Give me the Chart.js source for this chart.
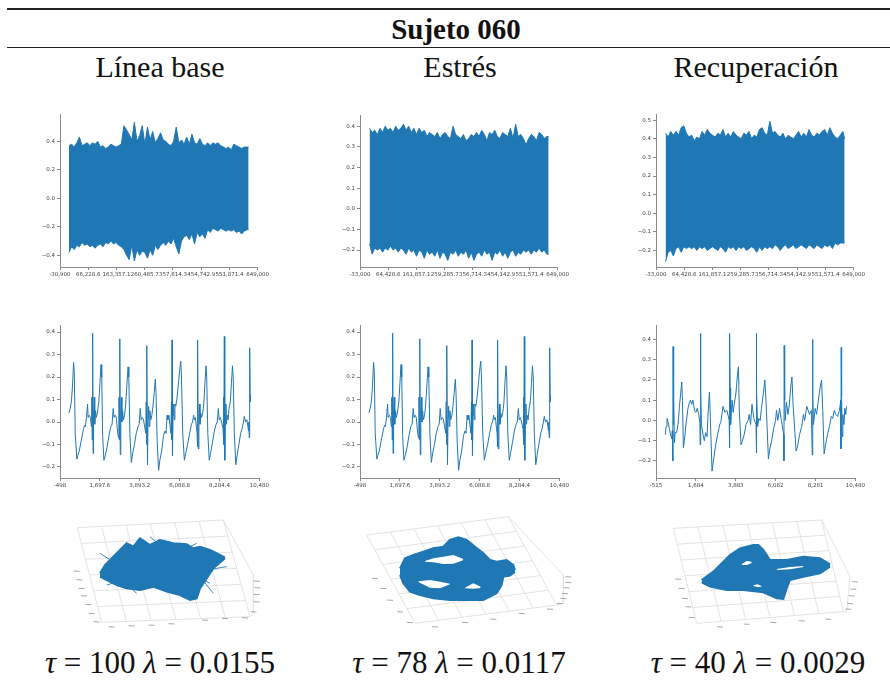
<!DOCTYPE html>
<html lang="es">
  <head>
    <meta charset="UTF-8" />
    <title>Sujeto 060</title>
    <style>
      html, body { margin: 0; padding: 0; background: #fff; }
      body { position: relative; width: 890px; height: 683px; overflow: hidden; font-family: "Liberation Serif", serif; color: #111; }
      .rule { position: absolute; left: 7px; right: 0; background: #222; }
      .txt { position: absolute; white-space: nowrap; transform: translateX(-50%); line-height: 1; }
      .head { font-size: 30px; }
      .foot { font-size: 31px; }
      .foot i { font-style: italic; }
      canvas { position: absolute; filter: blur(0.55px); }
    </style>
  </head>
  <body>
    <div class="rule" style="top: 8px; height: 2px"></div>
    <div class="rule" style="top: 47px; height: 1px"></div>
    <div class="txt" style="left: 456px; top: 15px; font-size: 29px; font-weight: bold">Sujeto 060</div>
    <div class="txt head" style="left: 160px; top: 52px">Línea base</div>
    <div class="txt head" style="left: 460px; top: 52px">Estrés</div>
    <div class="txt head" style="left: 756px; top: 52px">Recuperación</div>
    <div class="txt foot" style="left: 160px; top: 647px"><i>τ</i> = 100 <i>λ</i> = 0.0155</div>
    <div class="txt foot" style="left: 459px; top: 647px"><i>τ</i> = 78 <i>λ</i> = 0.0117</div>
    <div class="txt foot" style="left: 758px; top: 647px"><i>τ</i> = 40 <i>λ</i> = 0.0029</div>

    <script src="https://cdn.jsdelivr.net/npm/chart.js"></script>
    <script>
      const BLUE = "#1f77b4";

      // top row: upper and lower edge of the full recording
      const envX = [
        0, 9000, 18000, 27000, 36000, 45000, 54000, 63000, 72000, 81000,
        90000, 99000, 108000, 117000, 126000, 135000, 144000, 153000, 162000, 171000,
        180000, 189000, 198000, 207000, 216000, 225000, 234000, 243000, 252000, 261000,
        270000, 279000, 288000, 297000, 306000, 315000, 324000, 333000, 342000, 351000,
        360000, 369000, 378000, 387000, 396000, 405000, 414000, 423000, 432000, 441000,
        450000, 459000, 468000, 477000, 486000, 495000, 504000, 513000, 522000, 531000,
        540000, 549000, 558000, 567000, 576000, 585000, 594000, 603000, 612000, 618000,
      ];
      const baseHi = [
        0.37, 0.38, 0.36, 0.39, 0.43, 0.37, 0.38, 0.39, 0.37, 0.39,
        0.38, 0.40, 0.36, 0.37, 0.35, 0.36, 0.38, 0.37, 0.36, 0.37,
        0.38, 0.51, 0.48, 0.45, 0.41, 0.535, 0.40, 0.44, 0.51, 0.38,
        0.50, 0.41, 0.47, 0.39, 0.42, 0.46, 0.41, 0.40, 0.38, 0.37,
        0.40, 0.50, 0.39, 0.41, 0.38, 0.43, 0.38, 0.45, 0.39, 0.38,
        0.42, 0.38, 0.37, 0.39, 0.37, 0.39, 0.38, 0.39, 0.37, 0.36,
        0.35, 0.36, 0.34, 0.38, 0.37, 0.36, 0.35, 0.36, 0.36, 0.36,
      ];
      const baseLo = [
        -0.38, -0.34, -0.36, -0.33, -0.34, -0.31, -0.33, -0.32, -0.34, -0.33,
        -0.35, -0.33, -0.32, -0.34, -0.31, -0.32, -0.30, -0.32, -0.31, -0.33,
        -0.34, -0.36, -0.40, -0.43, -0.33, -0.44, -0.36, -0.40, -0.37, -0.38,
        -0.42, -0.36, -0.40, -0.33, -0.36, -0.33, -0.31, -0.33, -0.30, -0.32,
        -0.28, -0.34, -0.39, -0.30, -0.27, -0.26, -0.29, -0.25, -0.32, -0.24,
        -0.27, -0.25, -0.28, -0.22, -0.24, -0.21, -0.22, -0.23, -0.21, -0.22,
        -0.23, -0.22, -0.23, -0.22, -0.24, -0.23, -0.25, -0.23, -0.22, -0.22,
      ];
      const stressHi = [
        0.39, 0.37, 0.38, 0.36, 0.39, 0.37, 0.40, 0.38, 0.39, 0.37,
        0.40, 0.38, 0.39, 0.41, 0.38, 0.40, 0.37, 0.39, 0.36, 0.39,
        0.37, 0.38, 0.35, 0.37, 0.36, 0.35, 0.37, 0.34, 0.36, 0.37,
        0.35, 0.34, 0.40, 0.36, 0.35, 0.34, 0.36, 0.33, 0.34, 0.36,
        0.35, 0.37, 0.35, 0.38, 0.36, 0.33, 0.37, 0.36, 0.38, 0.35,
        0.34, 0.37, 0.36, 0.35, 0.39, 0.34, 0.41, 0.35, 0.36, 0.34,
        0.31, 0.34, 0.36, 0.35, 0.33, 0.37, 0.36, 0.34, 0.35, 0.35,
      ];
      const stressLo = [
        -0.17, -0.22, -0.19, -0.20, -0.19, -0.21, -0.19, -0.20, -0.18, -0.20,
        -0.19, -0.21, -0.19, -0.20, -0.22, -0.19, -0.21, -0.20, -0.23, -0.20,
        -0.21, -0.24, -0.20, -0.22, -0.21, -0.23, -0.20, -0.24, -0.21, -0.22,
        -0.25, -0.21, -0.22, -0.20, -0.23, -0.21, -0.22, -0.20, -0.24, -0.21,
        -0.25, -0.22, -0.21, -0.23, -0.20, -0.22, -0.21, -0.25, -0.21, -0.22,
        -0.20, -0.23, -0.21, -0.24, -0.21, -0.20, -0.23, -0.21, -0.22, -0.20,
        -0.21, -0.20, -0.22, -0.20, -0.21, -0.19, -0.21, -0.20, -0.22, -0.22,
      ];
      const recovHi = [
        0.43, 0.41, 0.44, 0.42, 0.44, 0.42, 0.46, 0.47, 0.43, 0.41,
        0.42, 0.39, 0.41, 0.40, 0.44, 0.42, 0.45, 0.43, 0.42, 0.41,
        0.43, 0.42, 0.45, 0.41, 0.43, 0.41, 0.44, 0.42, 0.41, 0.40,
        0.43, 0.42, 0.44, 0.40, 0.42, 0.41, 0.45, 0.46, 0.43, 0.42,
        0.495, 0.43, 0.44, 0.42, 0.41, 0.43, 0.40, 0.42, 0.41, 0.40,
        0.42, 0.44, 0.41, 0.43, 0.41, 0.45, 0.42, 0.41, 0.43, 0.42,
        0.44, 0.45, 0.42, 0.46, 0.43, 0.41, 0.40, 0.42, 0.44, 0.40,
      ];
      const recovLo = [
        -0.26, -0.21, -0.20, -0.23, -0.19, -0.18, -0.21, -0.18, -0.19, -0.18,
        -0.19, -0.18, -0.20, -0.18, -0.19, -0.18, -0.20, -0.19, -0.18, -0.19,
        -0.20, -0.18, -0.19, -0.21, -0.18, -0.19, -0.18, -0.20, -0.18, -0.19,
        -0.18, -0.20, -0.19, -0.18, -0.19, -0.21, -0.18, -0.20, -0.18, -0.19,
        -0.18, -0.19, -0.17, -0.18, -0.20, -0.18, -0.17, -0.19, -0.18, -0.17,
        -0.19, -0.18, -0.17, -0.18, -0.19, -0.17, -0.18, -0.19, -0.17, -0.18,
        -0.19, -0.17, -0.18, -0.17, -0.19, -0.16, -0.17, -0.16, -0.16, -0.16,
      ];

      // middle row: first 10000 samples (Línea base and Estrés read the same)
      const beatX = [
        0, 60, 130, 190, 250, 290, 340, 430, 480, 560, 700, 800, 850, 900, 960, 1020, 1050, 1120, 1180, 1230, 1255, 1275, 1300, 1325, 1350, 1385, 1415, 1460, 1500, 1560, 1640, 1700, 1760,
        1800, 1850, 1920, 1990, 2100, 2200, 2300, 2370, 2430, 2480, 2540, 2600, 2680, 2725, 2750, 2770, 2795, 2820, 2850, 2880, 2910, 2950, 3000, 3060, 3120, 3190, 3250,
        3290, 3350, 3430, 3500, 3600, 3700, 3800, 3860, 3920, 3970, 4040, 4100, 4180, 4225, 4250, 4270, 4290, 4320, 4350, 4380, 4410, 4450, 4500, 4560, 4620, 4690, 4750,
        4790, 4850, 4930, 5000, 5100, 5200, 5280, 5340, 5400, 5440, 5500, 5550, 5610, 5640, 5655, 5670, 5695, 5725, 5760, 5790, 5830, 5880, 5950, 6020, 6090, 6150,
        6190, 6260, 6350, 6420, 6530, 6640, 6740, 6800, 6860, 6900, 6960, 7020, 7050, 7065, 7078, 7090, 7115, 7150, 7180, 7210, 7250, 7300, 7360, 7420, 7480, 7540,
        7580, 7640, 7720, 7790, 7900, 8000, 8100, 8160, 8220, 8270, 8330, 8400, 8480, 8510, 8530, 8550, 8575, 8610, 8640, 8670, 8710, 8760, 8810, 8880, 8940, 9000,
        9040, 9100, 9180, 9250, 9350, 9450, 9530, 9600, 9650, 9720, 9790, 9850, 9880, 9900, 9920, 9945, 9975, 9990,
      ];
      const beatY = [
        0.04, 0.06, 0.09, 0.16, 0.265, 0.22, -0.05, -0.165, -0.15, -0.13, -0.07, -0.03, -0.015, -0.02, 0.02, 0.08, 0.02, 0.03, 0.02, -0.02, 0.11, -0.08, 0.395, -0.14, 0.03, 0.11, -0.01, 0.05, 0.02, 0.04, 0.09, 0.17, 0.255,
        0.2, -0.06, -0.17, -0.15, -0.11, -0.06, -0.02, -0.01, 0.06, 0.02, 0.03, 0.02, -0.05, -0.07, 0.11, -0.08, 0.37, -0.145, 0.03, 0.11, 0, 0.05, 0.01, 0.03, 0.08, 0.17, 0.245,
        0.2, -0.05, -0.18, -0.14, -0.1, -0.05, -0.02, -0.01, 0.06, 0.01, 0.02, 0.01, -0.03, -0.05, 0.09, -0.1, 0.34, -0.19, 0.02, 0.07, -0.02, 0.05, 0.01, 0.03, 0.07, 0.13, 0.19,
        0.13, -0.08, -0.215, -0.17, -0.13, -0.06, -0.04, -0.05, 0.03, 0.01, 0.03, -0.01, -0.05, 0.09, -0.08, 0.365, -0.15, 0.03, 0.08, 0.01, 0.08, 0.07, 0.11, 0.17, 0.23, 0.27,
        0.2, -0.05, -0.17, -0.14, -0.1, -0.05, -0.01, 0, 0.03, 0.01, 0.02, -0.03, -0.05, 0.1, -0.11, 0.365, -0.12, 0.03, 0.08, -0.01, 0.04, 0.02, 0.04, 0.08, 0.17, 0.25,
        0.2, -0.05, -0.17, -0.14, -0.09, -0.04, -0.01, 0, 0.06, 0.01, 0.02, 0, -0.03, 0.11, -0.1, 0.38, -0.17, 0.03, 0.08, -0.01, 0.03, 0.01, 0.06, 0.09, 0.17, 0.25,
        0.2, -0.05, -0.19, -0.15, -0.1, -0.05, -0.03, 0, 0.025, 0, 0.01, -0.02, -0.04, 0, -0.07, 0.33, 0.12, 0.09,
      ];
      const recovBeatX = [
        0, 40, 90, 160, 220, 290, 350, 385, 410, 426, 445, 470, 500, 540, 620, 700, 780, 850, 906, 945,
        995, 1050, 1150, 1250, 1330, 1385, 1450, 1520, 1610, 1680, 1760, 1840, 1905, 1920, 1936, 1960, 1990, 2080, 2150, 2220, 2300, 2360, 2433, 2480,
        2575, 2650, 2760, 2880, 3000, 3060, 3120, 3180, 3280, 3400, 3520, 3535, 3552, 3575, 3600, 3680, 3740, 3800, 3900, 3980, 4032, 4080,
        4174, 4250, 4350, 4450, 4560, 4620, 4700, 4780, 4880, 5000, 5012, 5027, 5050, 5090, 5150, 5230, 5300, 5400, 5488, 5550,
        5684, 5760, 5860, 5970, 6080, 6130, 6200, 6300, 6400, 6530, 6540, 6554, 6580, 6610, 6680, 6760, 6840, 6920, 6980, 7050,
        7211, 7290, 7400, 7520, 7620, 7680, 7800, 7950, 8050, 8100, 8117, 8140, 8170, 8260, 8340, 8440, 8530, 8615, 8680,
        8757, 8840, 8940, 9050, 9150, 9230, 9320, 9400, 9500, 9600, 9680, 9685, 9698, 9720, 9750, 9790, 9850, 9900, 9950, 9990,
      ];
      const recovBeatY = [
        -0.07, -0.03, 0.01, -0.01, -0.04, -0.07, -0.09, -0.05, -0.2, 0.365, -0.02, 0.1, -0.11, -0.06, -0.06, -0.02, 0.07, 0.14, 0.19, 0.1,
        -0.135, -0.1, -0.01, 0.06, 0.09, 0.1, 0.08, 0.1, 0.05, 0.04, 0.06, 0.03, -0.01, -0.12, 0.43, 0.14, -0.02, -0.07, -0.1, -0.06, -0.08, 0.04, 0.14, 0.02,
        -0.25, -0.2, -0.13, -0.07, -0.02, -0.01, 0.03, 0.07, 0.04, 0.05, 0, -0.135, 0.43, 0.16, -0.02, 0.1, 0.04, 0.08, 0.14, 0.23, 0.265, 0.05,
        -0.12, -0.1, -0.07, -0.02, 0, 0.03, -0.02, 0.08, 0.01, -0.02, -0.16, 0.43, 0.14, -0.03, 0.01, 0, 0.06, 0.13, 0.2, 0.1,
        -0.19, -0.14, -0.1, -0.04, 0, 0.05, 0, 0.06, 0, -0.07, -0.2, 0.37, 0.1, 0, 0.09, 0.03, 0.08, 0.17, 0.215, 0.07,
        -0.15, -0.13, -0.07, -0.03, 0.03, 0, 0.07, 0.03, 0.05, -0.17, 0.4, 0.12, -0.02, 0.06, 0.03, 0.1, 0.16, 0.2, 0.05,
        -0.165, -0.12, -0.07, -0.03, 0.02, 0.01, 0.05, 0.03, 0.02, 0.05, 0.1, -0.14, 0.36, 0.12, -0.08, 0.03, -0.02, 0.06, 0.03, 0.07,
      ];

      // bottom row: projected outline of each attractor, read in the panel's own units
      const cloudBaseTopX = [180, 195, 205, 225, 240, 260, 280, 300, 330, 360, 400, 440, 460, 480, 510, 540, 555];
      const cloudBaseTopY = [205, 180, 170, 150, 135, 115, 125, 100, 120, 105, 115, 118, 130, 125, 135, 150, 158];
      const cloudBaseBotX = [180, 190, 230, 260, 300, 340, 380, 420, 450, 470, 480, 500, 520, 555];
      const cloudBaseBotY = [215, 220, 240, 250, 255, 245, 260, 270, 285, 280, 250, 220, 190, 160];

      const cloudStressTopX = [150, 165, 190, 220, 250, 280, 300, 325, 350, 375, 400, 420, 440, 470, 490, 495];
      const cloudStressTopY = [190, 160, 150, 140, 130, 125, 105, 97, 105, 125, 145, 165, 170, 165, 180, 195];
      const cloudStressBotX = [150, 160, 180, 210, 250, 300, 350, 400, 440, 455, 460, 480, 495];
      const cloudStressBotY = [210, 235, 260, 270, 280, 285, 285, 285, 265, 240, 215, 212, 200];
      const stressHoles = [
        { x: [225, 250, 280, 310, 340], top: [168, 160, 155, 150, 162], bot: [170, 172, 177, 176, 166] },
        { x: [205, 240, 270, 300], top: [229, 225, 230, 236], bot: [231, 248, 250, 238] },
        { x: [345, 370, 392], top: [248, 235, 245], bot: [250, 251, 249] },
      ];

      const cloudRecovTopX = [215, 250, 280, 300, 330, 370, 385, 400, 420, 470, 520, 570, 600];
      const cloudRecovTopY = [225, 200, 170, 150, 130, 120, 120, 135, 165, 165, 155, 160, 178];
      const cloudRecovBotX = [215, 240, 290, 340, 400, 440, 460, 470, 480, 520, 570, 600];
      const cloudRecovBotY = [232, 245, 255, 255, 262, 280, 282, 250, 225, 215, 205, 185];
      const recovHoles = [
        { x: [335, 350, 365], top: [178, 168, 170], bot: [180, 180, 174] },
        { x: [440, 480, 520], top: [192, 186, 183], bot: [195, 193, 186] },
        { x: [370, 382, 395], top: [241, 238, 243], bot: [243, 246, 245] },
      ];

      // loose strokes leaving the Línea base cloud: x0, y0, x1, y1
      const baseRays = [
        [180, 145, 250, 190], [290, 265, 240, 220], [540, 155, 430, 170], [510, 235, 470, 215],
        [560, 185, 470, 200], [520, 265, 480, 215], [200, 240, 250, 225], [470, 115, 420, 140],
        [300, 120, 250, 150], [330, 95, 370, 130],
      ];

      // floor corners of the 3D boxes (back left, back right, front right, front left)
      const boxBase = [[112, 68], [550, 45], [630, 335], [185, 352]];
      const boxStress = [[50, 90], [475, 35], [620, 300], [195, 355]];
      const boxRecov = [[130, 70], [575, 45], [640, 320], [200, 355]];
      // side walls drawn from the back right and front right corners
      const wallBase = [[550, 45], [640, 210], [640, 325]];
      const wallStress = [[475, 35], [640, 210], [640, 295]];
      const wallRecov = [[575, 45], [660, 215], [650, 320]];
      // unreadable tick text of the 3D axes, kept as short strokes
      const marksBase = [[110, 198], [118, 224], [125, 250], [132, 272], [145, 298], [155, 325], [170, 350], [215, 365], [275, 362], [335, 360], [395, 356], [495, 345], [555, 340], [615, 338], [650, 228], [652, 248], [650, 268], [650, 290], [640, 320]];
      const marksStress = [[75, 220], [100, 250], [120, 285], [150, 320], [180, 352], [255, 365], [345, 352], [430, 342], [515, 325], [600, 312], [655, 215], [655, 232], [650, 248], [645, 265], [640, 280], [630, 295]];
      const marksRecov = [[145, 222], [155, 250], [165, 280], [175, 305], [185, 337], [270, 365], [350, 357], [430, 352], [515, 347], [595, 342], [675, 230], [670, 252], [665, 272], [660, 295], [655, 312]];

      const zip = (xs, ys) => xs.map((x, i) => ({ x: x, y: ys[i] }));

      function fixedAxes(xMin, xMax, xStep, yMin, yMax, yStep) {
        const common = {
          type: "linear",
          border: { color: "#8a8a8a", width: 1 },
          grid: { drawOnChartArea: false, tickLength: 3, color: "#8a8a8a" },
        };
        return {
          x: {
            ...common,
            min: xMin,
            max: xMax,
            ticks: {
              stepSize: xStep,
              includeBounds: false,
              autoSkip: false,
              maxRotation: 0,
              padding: 1,
              color: "#444",
              font: { family: "DejaVu Sans", size: 5.5 },
            },
            afterFit: (s) => (s.height = 14),
          },
          y: {
            ...common,
            min: yMin,
            max: yMax,
            ticks: {
              stepSize: yStep,
              includeBounds: false,
              padding: 2,
              color: "#444",
              font: { family: "DejaVu Sans", size: 5.5 },
              callback: (v) => v.toFixed(1).replace("-", "\u2212"),
            },
            afterFit: (s) => (s.width = 30),
          },
        };
      }

      function addCanvas(left, top, width, height) {
        const c = document.createElement("canvas");
        c.width = width;
        c.height = height;
        c.style.left = left + "px";
        c.style.top = top + "px";
        document.body.appendChild(c);
        return c;
      }

      const noAnim = { responsive: false, animation: false, events: [] };
      const noPlugins = { legend: { display: false }, tooltip: { enabled: false } };

      // plot area is fixed: canvas = plot box + 30 left, 14 bottom, 4 top/right
      function plot(box, scales, datasets) {
        const c = addCanvas(box[0] - 30, box[1] - 4, box[2] + 34, box[3] + 18);
        new Chart(c, {
          type: "line",
          data: { datasets: datasets },
          options: {
            ...noAnim,
            layout: { padding: { top: 4, right: 4 } },
            plugins: noPlugins,
            elements: { point: { radius: 0 }, line: { tension: 0 } },
            scales: scales,
          },
        });
      }

      function envelope(hi, lo) {
        return [
          { data: zip(envX, hi), borderColor: BLUE, backgroundColor: BLUE, borderWidth: 1, fill: "+1" },
          { data: zip(envX, lo), borderColor: BLUE, borderWidth: 1, fill: false },
        ];
      }

      const trace = (xs, ys) => [{ data: zip(xs, ys), borderColor: BLUE, borderWidth: 1, fill: false }];

      plot([60, 113, 206, 154], fixedAxes(-30900, 649000, 100000, -0.482, 0.59, 0.2), envelope(baseHi, baseLo));
      plot([360, 114, 206, 153], fixedAxes(-33000, 649000, 100000, -0.282, 0.453, 0.1), envelope(stressHi, stressLo));
      plot([656, 113, 206, 154], fixedAxes(-33000, 649000, 100000, -0.289, 0.532, 0.1), envelope(recovHi, recovLo));

      plot([60, 324, 206, 154], fixedAxes(-498, 10480, 2000, -0.249, 0.43, 0.1), trace(beatX, beatY));
      plot([360, 324, 206, 154], fixedAxes(-498, 10480, 2000, -0.249, 0.43, 0.1), trace(beatX, beatY));
      plot([656, 324, 206, 154], fixedAxes(-515, 10480, 2000, -0.284, 0.47, 0.1), trace(recovBeatX, recovBeatY));

      // bottom row helpers
      function mix(a, b, t) {
        return { x: a[0] + (b[0] - a[0]) * t, y: a[1] + (b[1] - a[1]) * t };
      }

      function boxLines(box, wall) {
        const pts = [];
        const gap = { x: NaN, y: NaN };
        const n = 6;
        for (let i = 0; i <= n; i++) {
          pts.push(mix(box[0], box[1], i / n), mix(box[3], box[2], i / n), gap);
          pts.push(mix(box[0], box[3], i / n), mix(box[1], box[2], i / n), gap);
        }
        for (const p of wall) pts.push({ x: p[0], y: p[1] });
        pts.push({ x: box[2][0], y: box[2][1] }, gap);
        return pts;
      }

      function markLines(marks) {
        const pts = [];
        for (const m of marks) {
          pts.push({ x: m[0] - 9, y: m[1] }, { x: m[0] + 9, y: m[1] + 1 }, { x: NaN, y: NaN });
        }
        return pts;
      }

      function rayLines(rays) {
        const pts = [];
        for (const r of rays) {
          pts.push({ x: r[0], y: r[1] }, { x: r[2], y: r[3] }, { x: NaN, y: NaN });
        }
        return pts;
      }

      function cloud(left, top, topLine, botLine, holes, rays, box, wall, marks) {
        const sets = [];
        for (const h of holes) {
          sets.push(
            { data: zip(h.x, h.top), borderWidth: 0, backgroundColor: "#fff", fill: "+1" },
            { data: zip(h.x, h.bot), borderWidth: 0, fill: false }
          );
        }
        sets.push(
          { data: topLine, borderColor: BLUE, backgroundColor: BLUE, borderWidth: 2, fill: "+1" },
          { data: botLine, borderColor: BLUE, borderWidth: 2, fill: false },
          { data: rayLines(rays), borderColor: "#3f86bb", borderWidth: 1, fill: false },
          { data: markLines(marks), borderColor: "#a8a8a8", borderWidth: 1, fill: false },
          { data: boxLines(box, wall), borderColor: "#e3e3e3", borderWidth: 1, fill: false }
        );
        new Chart(addCanvas(left, top, 260, 135), {
          type: "line",
          data: { datasets: sets },
          options: {
            ...noAnim,
            plugins: noPlugins,
            elements: { point: { radius: 0 }, line: { tension: 0 } },
            scales: {
              x: { type: "linear", display: false, min: 0, max: 780 },
              y: { type: "linear", display: false, min: 0, max: 405, reverse: true },
            },
          },
        });
      }

      cloud(40, 505, zip(cloudBaseTopX, cloudBaseTopY), zip(cloudBaseBotX, cloudBaseBotY), [], baseRays, boxBase, wallBase, marksBase);
      cloud(350, 505, zip(cloudStressTopX, cloudStressTopY), zip(cloudStressBotX, cloudStressBotY), stressHoles, [], boxStress, wallStress, marksStress);
      cloud(630, 505, zip(cloudRecovTopX, cloudRecovTopY), zip(cloudRecovBotX, cloudRecovBotY), recovHoles, [], boxRecov, wallRecov, marksRecov);
    </script>
  </body>
</html>
